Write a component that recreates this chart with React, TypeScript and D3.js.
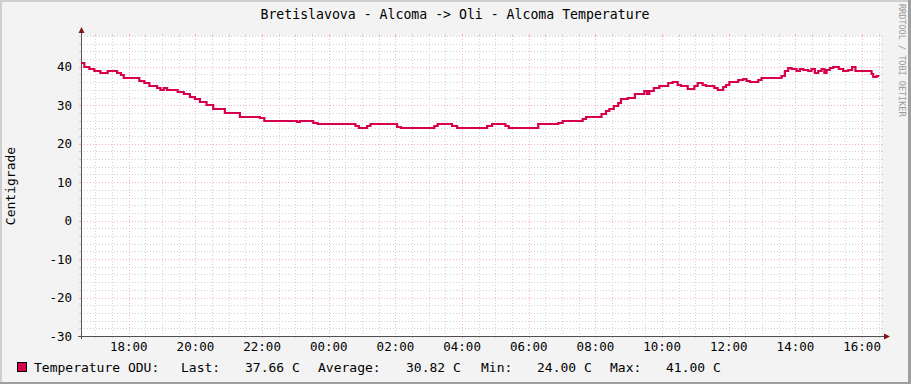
import { useEffect, useRef } from 'react'
import * as d3 from 'd3'

// chart text
const title = 'Bretislavova - Alcoma -> Oli - Alcoma Temperature'
const yLabel = 'Centigrade'
const watermark = 'RRDTOOL / TOBI OETIKER'

// axis setup
const rangeStart = '16:34'
const rangeEnd = '16:34'
const yTicks = [-30, -20, -10, 0, 10, 20, 30, 40]
const yMin = -30
const yMax = 48

// step change points of the temperature (value holds from that time on)
const stepTimes = [
  '16:34', '16:40', '16:49', '16:58', '17:09', '17:15', '17:22', '17:39', '17:46', '17:51',
  '18:19', '18:28', '18:37', '18:51', '18:57', '19:03', '19:09', '19:28', '19:39', '19:50',
  '19:59', '20:08', '20:20', '20:32', '20:53', '21:20', '21:56', '22:04', '23:03', '23:08',
  '23:32', '23:40', '00:48', '00:54', '01:09', '01:15', '02:03', '02:10', '03:10', '03:16',
  '03:42', '03:51', '04:45', '04:54', '05:18', '05:24', '06:17', '06:53', '07:01', '07:37',
  '07:43', '08:11', '08:19', '08:25', '08:33', '08:41', '08:46', '08:58', '09:11', '09:28',
  '09:33', '09:37', '09:45', '09:55', '10:11', '10:19', '10:28', '10:34', '10:46', '10:58',
  '11:04', '11:13', '11:19', '11:34', '11:40', '11:50', '11:55', '12:01', '12:17', '12:26',
  '12:32', '12:38', '12:53', '12:59', '13:35', '13:41', '13:47', '13:53', '14:02', '14:08',
  '14:14', '14:23', '14:29', '14:35', '14:41', '14:47', '14:52', '14:56', '15:02', '15:08',
  '15:18', '15:26', '15:35', '15:42', '15:48', '16:11', '16:17', '16:20', '16:26', '16:31',
]
const stepValues = [
  41, 40, 39.5, 39, 38.3, 38.5, 39, 38.3, 37.8, 37,
  36.4, 35.8, 35, 34.5, 34, 34.5, 34, 33.5, 33, 32.2,
  31.5, 30.9, 30, 29, 28, 27, 26.6, 26, 25.6, 26,
  25.3, 25, 24.5, 24, 24.5, 25, 24.3, 24, 24.6, 25,
  24.5, 24, 24.5, 25, 24.5, 24, 25, 25.5, 26, 26.5,
  27, 27.7, 28.4, 29, 29.8, 30.6, 31.5, 32, 32.9, 33.6,
  33, 33.6, 34.4, 35, 35.7, 36, 35.3, 35.1, 34.1, 35,
  35.8, 35.3, 35, 34.4, 34, 34.8, 35.3, 36, 36.5, 36.8,
  36.4, 36, 36.5, 37, 37.7, 39, 39.6, 39.4, 39, 39.5,
  39.2, 39, 39.4, 38.5, 38.8, 39.4, 38.3, 39.1, 39.8, 40,
  39.5, 39, 39.2, 40, 39, 38.8, 38.1, 37.3, 37.66, 37.66,
]

// legend
const seriesName = 'Temperature ODU:'
const legendLabels = ['Last:', 'Average:', 'Min:', 'Max:']
const legendValues = ['37.66 C', '30.82 C', '24.00 C', '41.00 C']

const lineColor = '#d8004e'
const mono = '"DejaVu Sans Mono", monospace'

const toDate = (hm: string, day: number) => {
  const [h, m] = hm.split(':').map(Number)
  return new Date(2020, 0, 1 + day, h, m)
}

const App = () => {
  const svgRef = useRef<SVGSVGElement | null>(null)

  useEffect(() => {
    if (!svgRef.current) return
    const W = 911
    const H = 384
    const left = 81
    const right = 881
    const top = 36
    const bottom = 336

    const svg = d3.select(svgRef.current)
    svg.selectAll('*').remove()

    // background + rrdtool style shaded frame
    svg.append('rect').attr('width', W).attr('height', H).attr('fill', '#f3f3f3')
    svg.append('rect').attr('x', 0).attr('y', 0).attr('width', W).attr('height', 2).attr('fill', '#cfcfcf')
    svg.append('rect').attr('x', 0).attr('y', 0).attr('width', 2).attr('height', H).attr('fill', '#cfcfcf')
    svg.append('rect').attr('x', 0).attr('y', H - 2).attr('width', W).attr('height', 2).attr('fill', '#9e9e9e')
    svg.append('rect').attr('x', W - 3).attr('y', 0).attr('width', 3).attr('height', H).attr('fill', '#9e9e9e')

    svg.append('rect')
      .attr('x', left).attr('y', top)
      .attr('width', right - left).attr('height', bottom - top)
      .attr('fill', '#ffffff')

    // build dated points, rolling into next day
    let day = 0
    let prev = -1
    const points = stepTimes.map((t, i) => {
      const [h, m] = t.split(':').map(Number)
      const mins = h * 60 + m
      if (mins < prev) day++
      prev = mins
      return { date: toDate(t, day), value: stepValues[i] }
    })

    const x = d3.scaleTime()
      .domain([toDate(rangeStart, 0), toDate(rangeEnd, 1)])
      .range([left, right])
    const y = d3.scaleLinear().domain([yMin, yMax]).range([bottom, top])

    const grid = svg.append('g').attr('shape-rendering', 'crispEdges')
    const minorColor = '#d2d2d2'
    const majorColor = '#f4b4b4'

    // horizontal grid
    d3.range(yMin + 2, yMax + 1, 2).forEach((v) => {
      const major = v % 10 === 0
      const c = major ? majorColor : minorColor
      const yy = Math.round(y(v)) + 0.5
      grid.append('line').attr('x1', left).attr('x2', right).attr('y1', yy).attr('y2', yy)
        .attr('stroke', c).attr('stroke-dasharray', '1,2')
      grid.append('line').attr('x1', left - 2).attr('x2', left).attr('y1', yy).attr('y2', yy).attr('stroke', c)
      grid.append('line').attr('x1', right).attr('x2', right + 2).attr('y1', yy).attr('y2', yy).attr('stroke', c)
    })

    // vertical grid
    const minorTimes = x.ticks(d3.timeMinute.every(30) as d3.TimeInterval)
    minorTimes.forEach((d) => {
      const major = d.getMinutes() === 0 && d.getHours() % 2 === 0
      const c = major ? majorColor : minorColor
      const xx = Math.round(x(d)) + 0.5
      grid.append('line').attr('x1', xx).attr('x2', xx).attr('y1', top).attr('y2', bottom)
        .attr('stroke', c).attr('stroke-dasharray', '1,2')
      grid.append('line').attr('x1', xx).attr('x2', xx).attr('y1', bottom).attr('y2', bottom + 2).attr('stroke', c)
      grid.append('line').attr('x1', xx).attr('x2', xx).attr('y1', top - 2).attr('y2', top).attr('stroke', c)
    })

    // axes
    const axisColor = '#505050'
    const arrowColor = '#7f1414'
    svg.append('line')
      .attr('x1', left + 0.5).attr('x2', left + 0.5).attr('y1', bottom + 3).attr('y2', top - 4)
      .attr('stroke', axisColor).attr('shape-rendering', 'crispEdges')
    svg.append('line')
      .attr('x1', left - 3).attr('x2', right + 4).attr('y1', bottom + 0.5).attr('y2', bottom + 0.5)
      .attr('stroke', axisColor).attr('shape-rendering', 'crispEdges')
    svg.append('path')
      .attr('d', `M${left - 2.5},${top - 3} L${left + 3.5},${top - 3} L${left + 0.5},${top - 9} Z`)
      .attr('fill', arrowColor)
    svg.append('path')
      .attr('d', `M${right + 3},${bottom - 2.5} L${right + 3},${bottom + 3.5} L${right + 9},${bottom + 0.5} Z`)
      .attr('fill', arrowColor)

    // y labels
    svg.append('g')
      .selectAll('text')
      .data(yTicks)
      .enter()
      .append('text')
      .attr('x', 72)
      .attr('y', (d) => y(d))
      .attr('dy', '0.36em')
      .attr('text-anchor', 'end')
      .style('font-family', mono)
      .style('font-size', '12.5px')
      .style('fill', '#000')
      .text((d) => String(d))

    // x labels
    const majorTimes = x.ticks(d3.timeHour.every(2) as d3.TimeInterval)
    svg.append('g')
      .selectAll('text')
      .data(majorTimes)
      .enter()
      .append('text')
      .attr('x', (d) => x(d))
      .attr('y', 351)
      .attr('text-anchor', 'middle')
      .style('font-family', mono)
      .style('font-size', '12.5px')
      .style('fill', '#000')
      .text((d) => d3.timeFormat('%H:%M')(d))

    // data line
    const line = d3.line<{ date: Date; value: number }>()
      .x((d) => x(d.date))
      .y((d) => Math.round(y(d.value)))
      .curve(d3.curveStepAfter)
    svg.append('path')
      .datum(points)
      .attr('d', line)
      .attr('fill', 'none')
      .attr('stroke', lineColor)
      .attr('stroke-width', 2.2)
      .attr('stroke-linejoin', 'miter')

    // title
    svg.append('text')
      .attr('x', 455)
      .attr('y', 19)
      .attr('text-anchor', 'middle')
      .style('font-family', mono)
      .style('font-size', '13.2px')
      .style('fill', '#000')
      .text(title)

    // y axis title
    svg.append('text')
      .attr('transform', `translate(15,186) rotate(-90)`)
      .attr('text-anchor', 'middle')
      .style('font-family', mono)
      .style('font-size', '13px')
      .style('fill', '#000')
      .text(yLabel)

    // watermark
    svg.append('text')
      .attr('transform', `translate(899,4) rotate(90)`)
      .style('font-family', mono)
      .style('font-size', '8.5px')
      .style('fill', '#999999')
      .text(watermark)

    // legend
    svg.append('rect')
      .attr('x', 17.5).attr('y', 362.5).attr('width', 9).attr('height', 9)
      .attr('fill', lineColor).attr('stroke', '#000')
    const legendItems = [seriesName]
    legendLabels.forEach((l, i) => {
      legendItems.push(l)
      legendItems.push(legendValues[i])
    })
    const legendX = [34, 181, 245, 318, 406, 481, 537, 610, 666]
    svg.append('g')
      .selectAll('text')
      .data(legendItems)
      .enter()
      .append('text')
      .attr('x', (_, i) => legendX[i])
      .attr('y', 372)
      .style('font-family', mono)
      .style('font-size', '13px')
      .style('fill', '#000')
      .text((d) => d)
  }, [])

  return (
    <svg
      ref={svgRef}
      width={911}
      height={384}
      style={{ position: 'absolute', left: 0, top: 0, display: 'block' }}
    />
  )
}

export default App
